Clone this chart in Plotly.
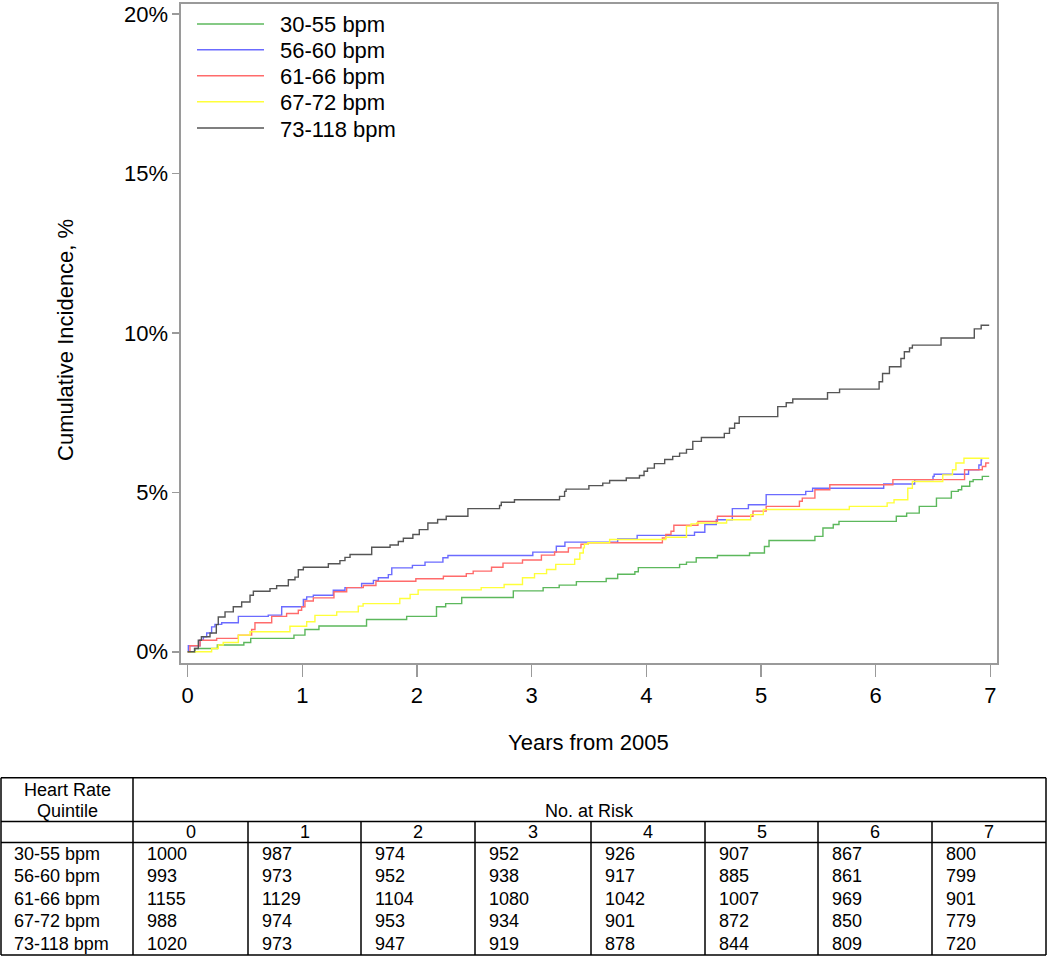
import plotly.graph_objects as go

# ---------------- data ----------------
groups = ["30-55 bpm", "56-60 bpm", "61-66 bpm", "67-72 bpm", "73-118 bpm"]

t_30_55 = [0, 0.064, 0.259, 0.49, 0.55, 0.927, 1.023, 1.145, 1.56, 1.91, 2.17, 2.25, 2.39, 2.84,
           3.10, 3.24, 3.39, 3.65, 3.75, 3.90, 3.93, 4.29, 4.35, 4.435, 4.62, 4.90, 5.03, 5.07,
           5.47, 5.54, 5.63, 5.68, 6.18, 6.27, 6.38, 6.53, 6.66, 6.72, 6.75, 6.82, 6.85, 6.93, 6.99]
y_30_55 = [0, 0.10, 0.21, 0.29, 0.42, 0.52, 0.70, 0.81, 1.01, 1.11, 1.41, 1.51, 1.70, 1.91,
           2.01, 2.09, 2.20, 2.30, 2.43, 2.51, 2.64, 2.74, 2.81, 2.95, 3.02, 3.10, 3.30, 3.49,
           3.62, 3.88, 3.99, 4.09, 4.25, 4.35, 4.56, 4.82, 5.03, 5.08, 5.19, 5.34, 5.40, 5.50, 5.50]

t_56_60 = [0, 0.006, 0.108, 0.137, 0.166, 0.209, 0.238, 0.297, 0.442, 0.703, 0.82, 1.009, 1.038,
           1.096, 1.27, 1.372, 1.517, 1.62, 1.663, 1.75, 1.78, 1.96, 2.07, 2.226, 2.27, 3.01, 3.215,
           3.29, 3.75, 3.92, 4.42, 4.51, 4.61, 4.75, 4.89, 5.045, 5.39, 5.45, 6.07, 6.34, 6.50, 6.51,
           6.81, 6.90, 6.92, 6.93]
y_56_60 = [0, 0.19, 0.36, 0.47, 0.59, 0.78, 0.86, 0.91, 1.11, 1.15, 1.41, 1.64, 1.72,
           1.77, 1.93, 2.01, 2.14, 2.24, 2.32, 2.42, 2.63, 2.71, 2.81, 2.95, 3.02, 3.125, 3.31,
           3.44, 3.54, 3.65, 3.75, 3.99, 4.14, 4.49, 4.61, 4.93, 5.03, 5.13, 5.26, 5.40, 5.50, 5.57,
           5.71, 5.86, 6.02, 6.02]

t_61_66 = [0, 0.02, 0.108, 0.253, 0.442, 0.558, 0.587, 0.733, 0.863, 0.965, 0.994, 1.023, 1.096,
           1.276, 1.387, 1.532, 1.642, 1.99, 2.23, 2.43, 2.49, 2.65, 2.75, 2.92, 3.085, 3.20, 3.32,
           3.43, 3.49, 4.14, 4.17, 4.215, 4.24, 4.45, 4.62, 4.93, 5.045, 5.335, 5.36, 5.47, 5.60,
           6.15, 6.775, 6.93, 6.96, 6.99]
y_61_66 = [0, 0.19, 0.36, 0.42, 0.52, 0.70, 0.91, 1.11, 1.20, 1.30, 1.41, 1.59, 1.69,
           1.88, 2.01, 2.08, 2.21, 2.29, 2.37, 2.45, 2.53, 2.65, 2.78, 2.88, 3.03, 3.13, 3.26,
           3.37, 3.42, 3.57, 3.68, 3.78, 3.97, 4.09, 4.25, 4.41, 4.56, 4.72, 4.82, 5.08, 5.24,
           5.40, 5.71, 5.81, 5.92, 5.92]

t_67_72 = [0, 0.209, 0.267, 0.31, 0.442, 0.544, 0.892, 1.038, 1.11, 1.30, 1.488, 1.53, 1.85, 1.94,
           2.01, 2.56, 2.76, 2.92, 3.025, 3.13, 3.21, 3.375, 3.42, 3.45, 3.46, 3.49, 3.68, 4.17,
           4.35, 4.39, 4.44, 4.70, 4.91, 5.02, 5.77, 6.10, 6.16, 6.28, 6.32, 6.585, 6.67, 6.70,
           6.77, 6.99]
y_67_72 = [0, 0.10, 0.21, 0.29, 0.52, 0.625, 0.80, 0.94, 1.14, 1.25, 1.43, 1.51, 1.67, 1.80,
           1.94, 2.01, 2.11, 2.32, 2.45, 2.58, 2.74, 2.90, 3.10, 3.26, 3.37, 3.42, 3.52, 3.59,
           3.94, 4.01, 4.04, 4.14, 4.30, 4.46, 4.56, 4.67, 4.77, 5.13, 5.34, 5.55, 5.71, 5.92,
           6.07, 6.07]

t_73_118 = [0, 0.06, 0.093, 0.12, 0.195, 0.25, 0.267, 0.326, 0.398, 0.471, 0.544, 0.573, 0.718,
            0.776, 0.878, 0.936, 0.965, 1.009, 1.227, 1.328, 1.372, 1.416, 1.605, 1.765, 1.837,
            1.881, 1.964, 2.02, 2.095, 2.18, 2.255, 2.444, 2.72, 2.735, 2.85, 3.243, 3.287, 3.30,
            3.499, 3.62, 3.68, 3.825, 3.94, 3.98, 4.01, 4.07, 4.16, 4.23, 4.29, 4.35, 4.405, 4.48,
            4.68, 4.725, 4.77, 4.81, 5.146, 5.22, 5.277, 5.58, 5.685, 6.03, 6.06, 6.12, 6.22, 6.25,
            6.295, 6.32, 6.57, 6.86, 6.92, 6.99]
y_73_118 = [0, 0.10, 0.36, 0.47, 0.59, 0.85, 1.09, 1.25, 1.41, 1.56, 1.77, 1.90, 1.98,
            2.07, 2.26, 2.34, 2.57, 2.65, 2.76, 2.86, 2.96, 3.05, 3.28, 3.35, 3.46,
            3.56, 3.68, 3.83, 4.04, 4.15, 4.25, 4.49, 4.59, 4.69, 4.77, 4.875, 5.03, 5.10,
            5.21, 5.29, 5.37, 5.45, 5.53, 5.66, 5.76, 5.90, 6.03, 6.13, 6.23, 6.35, 6.60, 6.72,
            6.85, 7.01, 7.17, 7.375, 7.69, 7.81, 7.93, 8.13, 8.24, 8.47, 8.73, 8.94, 9.20, 9.41,
            9.53, 9.62, 9.84, 10.13, 10.24, 10.24]

times = [t_30_55, t_56_60, t_61_66, t_67_72, t_73_118]
values = [y_30_55, y_56_60, y_61_66, y_67_72, y_73_118]

y_ticks = [0, 5, 10, 15, 20]
y_tick_labels = ["0%", "5%", "10%", "15%", "20%"]
x_ticks = [0, 1, 2, 3, 4, 5, 6, 7]

risk_years = ["0", "1", "2", "3", "4", "5", "6", "7"]
risk_30_55 = [1000, 987, 974, 952, 926, 907, 867, 800]
risk_56_60 = [993, 973, 952, 938, 917, 885, 861, 799]
risk_61_66 = [1155, 1129, 1104, 1080, 1042, 1007, 969, 901]
risk_67_72 = [988, 974, 953, 934, 901, 872, 850, 779]
risk_73_118 = [1020, 973, 947, 919, 878, 844, 809, 720]
risk_rows = [risk_30_55, risk_56_60, risk_61_66, risk_67_72, risk_73_118]

# ---------------- styling / layout ----------------
colors = ["#5cb85c", "#6b6bff", "#ff6b6b", "#ffff3a", "#555555"]
FONT = "Arial, Liberation Sans, sans-serif"
W, H = 1050, 958
ML, MR, MT, MB = 181, 53, 2, 295
PW, PH = W - ML - MR, H - MT - MB


def px(x):
    return (x - ML) / PW


def py(y):
    return (H - MB - y) / PH


fig = go.Figure()
for name, t, v, c in zip(groups, times, values, colors):
    fig.add_trace(go.Scatter(x=t, y=v, mode="lines", name=name,
                             line=dict(color=c, width=1.4, shape="hv"),
                             showlegend=False, hoverinfo="skip"))

shapes = []
annotations = []

# legend (manual, long line samples)
leg_y = [22, 48, 74, 100, 126.5]
for name, c, ly in zip(groups, colors, leg_y):
    shapes.append(dict(type="line", xref="paper", yref="paper",
                       x0=px(197), x1=px(264), y0=py(ly), y1=py(ly),
                       line=dict(color=c, width=1.5)))
    annotations.append(dict(xref="paper", yref="paper", x=px(278), y=py(ly + 1),
                            text=name, showarrow=False, xanchor="left", yanchor="middle",
                            font=dict(family=FONT, size=22, color="#000")))

# axis titles
annotations.append(dict(xref="paper", yref="paper", x=px(588), y=py(743),
                        text="Years from 2005", showarrow=False,
                        xanchor="center", yanchor="middle",
                        font=dict(family=FONT, size=22, color="#000")))
annotations.append(dict(xref="paper", yref="paper", x=px(66), y=py(339),
                        text="Cumulative Incidence, %", showarrow=False, textangle=-90,
                        xanchor="center", yanchor="middle",
                        font=dict(family=FONT, size=22, color="#000")))

# ---------------- risk table ----------------
col_edges = [1, 133, 248, 361, 475, 591, 705, 818, 932, 1046]
T_TOP, T_HDR, T_COL, T_BOT = 778, 822, 843, 956
row_h = (T_BOT - T_COL) / 5
tline = dict(color="#000", width=1.5)


def hline(x0, x1, y):
    shapes.append(dict(type="line", xref="paper", yref="paper",
                       x0=px(x0), x1=px(x1), y0=py(y), y1=py(y), line=tline))


def vline(x, y0, y1):
    shapes.append(dict(type="line", xref="paper", yref="paper",
                       x0=px(x), x1=px(x), y0=py(y0), y1=py(y1), line=tline))


for yy in [T_TOP, T_HDR, T_COL, T_BOT]:
    hline(col_edges[0], col_edges[-1], yy)
vline(col_edges[0], T_TOP, T_BOT)
vline(col_edges[1], T_TOP, T_BOT)
vline(col_edges[-1], T_TOP, T_BOT)
for x in col_edges[2:-1]:
    vline(x, T_HDR, T_BOT)

TF = dict(family=FONT, size=18, color="#000")


def txt(x, y, s, anchor):
    annotations.append(dict(xref="paper", yref="paper", x=px(x), y=py(y), text=s,
                            showarrow=False, xanchor=anchor, yanchor="middle", font=TF))


txt((col_edges[0] + col_edges[1]) / 2, 790, "Heart Rate", "center")
txt((col_edges[0] + col_edges[1]) / 2, 811, "Quintile", "center")
txt((col_edges[1] + col_edges[-1]) / 2, 811, "No. at Risk", "center")
for i, lab in enumerate(risk_years):
    txt((col_edges[i + 1] + col_edges[i + 2]) / 2, 833, lab, "center")
for r, (name, row) in enumerate(zip(groups, risk_rows)):
    yc = T_COL + row_h * (r + 0.5)
    txt(col_edges[0] + 11, yc, name, "left")
    for i, val in enumerate(row):
        txt(col_edges[i + 1] + 12, yc, str(val), "left")

axis_common = dict(showline=True, linecolor="#9a9a9a", linewidth=1.6, mirror=True,
                   ticks="outside", tickcolor="#9a9a9a", tickwidth=1.5,
                   showgrid=False, zeroline=False,
                   tickfont=dict(family=FONT, size=22, color="#000"))

fig.update_layout(
    width=W, height=H,
    margin=dict(l=ML, r=MR, t=MT, b=MB, pad=0),
    paper_bgcolor="white", plot_bgcolor="white",
    showlegend=False,
    xaxis=dict(range=[-0.058, 7.058], tickvals=x_ticks, ticklen=12, **axis_common),
    yaxis=dict(range=[-0.353, 20.32], tickvals=y_ticks, ticktext=y_tick_labels, ticklen=7,
               **axis_common),
    shapes=shapes,
    annotations=annotations,
)

fig.write_html("out.html",
               config={"displayModeBar": False, "staticPlot": True},
               post_script="document.body.style.margin='0';document.body.style.overflow='hidden';")
